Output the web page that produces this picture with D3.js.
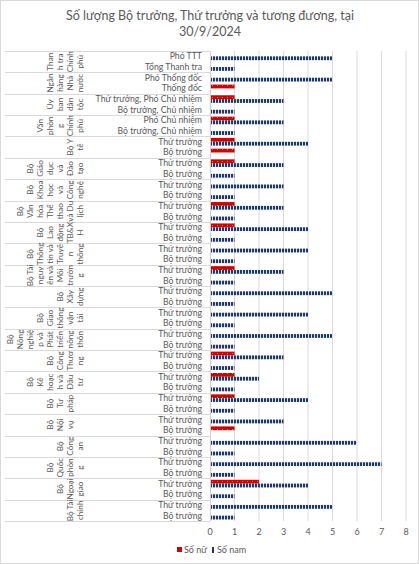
<!DOCTYPE html>
<html><head><meta charset="utf-8">
<script src="https://cdn.jsdelivr.net/npm/d3@7/dist/d3.min.js"></script>
<style>
body{margin:0;background:#fff}
svg{display:block}
text{font-family:Lato,"Noto Sans",sans-serif;fill:#595959}
</style>
</head><body>
<svg id="chart" width="419" height="564"></svg>
<script>
// ---- data (top to bottom as displayed) ----
const title = ["Số lượng Bộ trưởng, Thứ trưởng và tương đương, tại", "30/9/2024"];
const seriesNames = ["Số nữ", "Số nam"];
const groups = [
  "Than\nh tra\nChính\nphủ",
  "Ngân\nhàng\nNhà\nnước",
  "Ủy\nban\ndân\ntộc",
  "Văn\nphòn\ng\nChính\nphủ",
  "Bộ Y\ntế",
  "Bộ\nGiáo\ndục\nvà\nĐào\ntạo",
  "Bộ\nKhoa\nhọc\nvà\nCông\nnghệ",
  "Bộ\nVăn\nhóa\nThể\nthao\nvà Du\nlịch",
  "Bộ\nLao\nđộng\nTB&X\nH",
  "Bộ\nThông\ntin và\nTruyề\nn\nthông",
  "Bộ Tài\nnguy\nên và\nMôi\ntrườn\ng",
  "Bộ\nXây\ndựng",
  "Bộ\nGiao\nthông\nvận\ntải",
  "Bộ\nNông\nnghiệ\np và\nPhát\ntriển\nnông\nthôn",
  "Bộ\nCông\nThươ\nng",
  "Bộ\nKế\nhoạc\nh và\nĐầu\ntư",
  "Bộ\nTư\npháp\n",
  "Bộ\nNội\nvụ\n",
  "Bộ\nCông\nan",
  "Bộ\nQuốc\nphòn\ng",
  "Bộ\nNgoại\ngiao",
  "Bộ Tài\nchính"
];
const roles = [
  "Phó TTT","Tổng Thanh tra",
  "Phó Thống đốc","Thống đốc",
  "Thứ trưởng, Phó Chủ nhiệm","Bộ trưởng, Chủ nhiệm",
  "Phó Chủ nhiệm","Bộ trưởng, Chủ nhiệm",
  "Thứ trưởng","Bộ trưởng","Thứ trưởng","Bộ trưởng","Thứ trưởng","Bộ trưởng",
  "Thứ trưởng","Bộ trưởng","Thứ trưởng","Bộ trưởng","Thứ trưởng","Bộ trưởng",
  "Thứ trưởng","Bộ trưởng","Thứ trưởng","Bộ trưởng","Thứ trưởng","Bộ trưởng",
  "Thứ trưởng","Bộ trưởng","Thứ trưởng","Bộ trưởng","Thứ trưởng","Bộ trưởng",
  "Thứ trưởng","Bộ trưởng","Thứ trưởng","Bộ trưởng","Thứ trưởng","Bộ trưởng",
  "Thứ trưởng","Bộ trưởng","Thứ trưởng","Bộ trưởng","Thứ trưởng","Bộ trưởng"
];
const soNu = [0,0, 0,1, 1,0, 1,0, 1,1, 1,0, 0,0, 1,0, 1,0, 0,0, 1,0, 0,0, 0,0, 0,0, 1,0, 1,0, 1,0, 0,1, 0,0, 0,0, 2,0, 0,0];
const soNam = [5,1, 5,0, 3,1, 3,1, 4,0, 3,1, 3,1, 3,1, 4,1, 4,1, 3,1, 5,1, 4,1, 5,1, 3,1, 2,1, 4,1, 3,0, 6,1, 7,1, 4,1, 5,1];
const xTicks = [0,1,2,3,4,5,6,7,8];

// ---- drawing ----
const svg = d3.select("#chart");
const W = 419, H = 564;
const plotTop = 51, plotBottom = 521, plotLeft = 210, plotRight = 406;
const red = "#d00000", navy = "#1f3864";

const defs = svg.append("defs");
const pNam = defs.append("pattern").attr("id","pNam").attr("patternUnits","userSpaceOnUse")
  .attr("width",3).attr("height",6);
pNam.append("rect").attr("width",3).attr("height",6).attr("fill","#d7deec");
pNam.append("rect").attr("width",2).attr("height",6).attr("fill",navy);
const pNu = defs.append("pattern").attr("id","pNu").attr("patternUnits","userSpaceOnUse")
  .attr("width",5).attr("height",4);
pNu.append("rect").attr("width",5).attr("height",4).attr("fill",red);
pNu.append("rect").attr("x",2).attr("y",1).attr("width",1).attr("height",1).attr("fill","#f07070");

// chart border
svg.append("rect").attr("x",0.5).attr("y",0.5).attr("width",W-1).attr("height",H-1)
  .attr("fill","#fff").attr("stroke","#d9d9d9");

// title
svg.append("text").attr("x",210).attr("y",20).attr("text-anchor","middle")
  .style("font-size","12.5px").text(title[0]);
svg.append("text").attr("x",210).attr("y",36).attr("text-anchor","middle")
  .style("font-size","12.5px").text(title[1]);

const rows = d3.range(roles.length);
const y = d3.scaleBand().domain(rows).range([plotTop, plotBottom]).padding(0);
const sub = d3.scaleBand().domain(seriesNames).range([0, y.bandwidth()]).paddingOuter(0.4).paddingInner(0);
const x = d3.scaleLinear().domain([0, 8]).range([plotLeft, plotRight]);

// gridlines
svg.append("g").selectAll("line").data(xTicks.filter(t => t > 0)).join("line")
  .attr("x1", d => x(d)).attr("x2", d => x(d))
  .attr("y1", plotTop).attr("y2", plotBottom)
  .attr("stroke","#d9d9d9").attr("stroke-width",1);

// group separators
const nGroups = groups.length;
const sepYs = d3.range(nGroups).map(g => y(g*2)).concat([plotBottom]);
svg.append("g").selectAll("line").data(sepYs).join("line")
  .attr("x1", 5).attr("x2", plotLeft)
  .attr("y1", d => Math.round(d)+0.5).attr("y2", d => Math.round(d)+0.5)
  .attr("stroke","#d9d9d9");

// axis line at 0
svg.append("line").attr("x1", x(0)+0.5).attr("x2", x(0)+0.5)
  .attr("y1", plotTop).attr("y2", plotBottom).attr("stroke","#d0d0d0");

// bars
const barData = [];
rows.forEach(i => {
  barData.push({i, s: seriesNames[0], v: soNu[i]});
  barData.push({i, s: seriesNames[1], v: soNam[i]});
});
svg.append("g").selectAll("rect").data(barData.filter(d => d.v > 0)).join("rect")
  .attr("x", x(0)+1)
  .attr("y", d => y(d.i) + sub(d.s))
  .attr("width", d => x(d.v) - x(0) - 1)
  .attr("height", sub.bandwidth())
  .attr("fill", d => d.s === seriesNames[0] ? "url(#pNu)" : "url(#pNam)");

// role labels
svg.append("g").selectAll("text").data(rows).join("text")
  .attr("x", 202).attr("y", i => y(i) + y.bandwidth()/2 + 3)
  .attr("text-anchor","end").style("font-size","8.7px")
  .text(i => roles[i]);

// group labels (rotated, wrapped in columns)
const gl = svg.append("g");
groups.forEach((g, gi) => {
  const lines = g.split("\n");
  const n = lines.length;
  const cy = (y(gi*2) + y(gi*2+1) + y.bandwidth()) / 2;
  lines.forEach((ln, j) => {
    if (!ln) return;
    const cx = 80 - (n - 1 - j) * 10;
    gl.append("text")
      .attr("transform", `translate(${cx},${cy}) rotate(-90)`)
      .attr("text-anchor","middle").attr("dy","0.35em")
      .style("font-size","8.2px").text(ln);
  });
});

// x tick labels
svg.append("g").selectAll("text").data(xTicks).join("text")
  .attr("x", d => x(d)).attr("y", 535).attr("text-anchor","middle")
  .style("font-size","9px").text(d => d);

// legend
const lg = svg.append("g");
lg.append("rect").attr("x",177).attr("y",547).attr("width",5).attr("height",5).attr("fill",red);
lg.append("text").attr("x",184).attr("y",553).style("font-size","9px").text(seriesNames[0]);
lg.append("rect").attr("x",212).attr("y",547).attr("width",2).attr("height",6).attr("fill",navy);
lg.append("text").attr("x",217).attr("y",553).style("font-size","9px").text(seriesNames[1]);
</script>
</body></html>
